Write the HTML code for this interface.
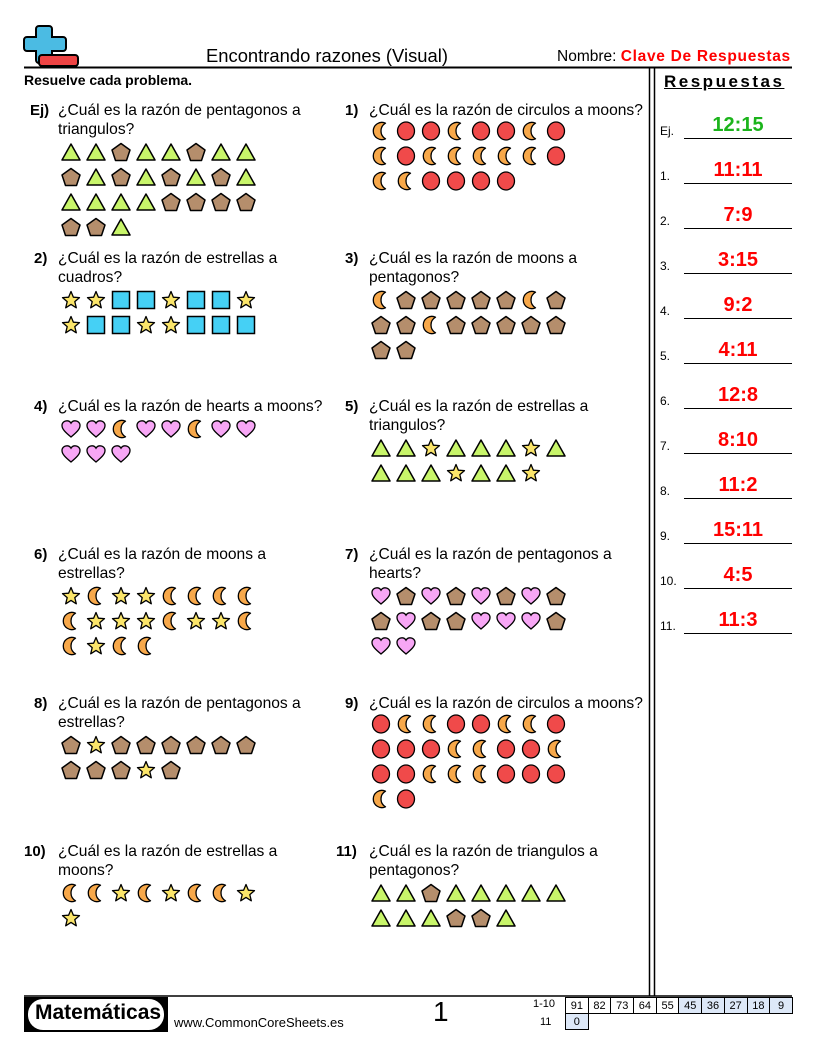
<!DOCTYPE html>
<html><head><meta charset="utf-8">
<style>
body{margin:0;background:#fff;}
#pg{position:relative;width:816px;height:1056px;overflow:hidden;font-family:"Liberation Sans",sans-serif;color:#000;}
.t{position:absolute;white-space:nowrap;}
.q{position:absolute;font-size:15.6px;line-height:19px;white-space:nowrap;}
.n{position:absolute;font-size:15px;font-weight:bold;line-height:19px;}
.ans{position:absolute;left:684px;width:108px;text-align:center;font-size:20px;font-weight:bold;color:#f00;line-height:24px;}
.al{position:absolute;left:684px;width:108px;height:1px;background:#000;}
.lb{position:absolute;left:660px;font-size:12px;}
table{border-collapse:collapse;font-size:11px;table-layout:fixed;}
td{border:1px solid #000;width:21.7px;height:15px;text-align:center;padding:0;}
td.b{background:#dde8f8;}
</style></head><body><div id="pg">
<svg width="816" height="1056" style="position:absolute;left:0;top:0" id="sv">
<defs>
<symbol id="T" viewBox="0 0 20 20"><polygon points="10,2 19,18 1,18" fill="#c8f56a" stroke="#000" stroke-width="1.5" stroke-linejoin="round"/></symbol>
<symbol id="P" viewBox="0 0 20 20"><polygon points="10,1.5 19,8 15.5,18.5 4.5,18.5 1,8" fill="#b58e6c" stroke="#000" stroke-width="1.5" stroke-linejoin="round"/></symbol>
<symbol id="M" viewBox="0 0 20 20"><path d="M14.5,2.2 A8.6,8.6 0 1 0 14.5,17.8 A9,9 0 0 1 14.5,2.2 Z" fill="#f7a84a" stroke="#000" stroke-width="1.3" stroke-linejoin="round"/></symbol>
<symbol id="C" viewBox="0 0 20 20"><ellipse cx="10" cy="10" rx="8.5" ry="9" fill="#f04a4a" stroke="#000" stroke-width="1.3"/></symbol>
<symbol id="S" viewBox="0 0 20 20"><polygon points="10,1.5 12.4,7.2 18.5,7.6 13.8,11.6 15.3,17.8 10,14.4 4.7,17.8 6.2,11.6 1.5,7.6 7.6,7.2" fill="#fbe56a" stroke="#000" stroke-width="1.3" stroke-linejoin="round"/></symbol>
<symbol id="Q" viewBox="0 0 20 20"><rect x="1.5" y="1.5" width="17" height="17" fill="#45d0f5" stroke="#000" stroke-width="1.5"/></symbol>
<symbol id="H" viewBox="0 0 20 20"><path d="M10,18 C4,13 1,10 1,6.5 C1,3.5 3.5,1.8 6,1.8 C8,1.8 9.3,3 10,4.2 C10.7,3 12,1.8 14,1.8 C16.5,1.8 19,3.5 19,6.5 C19,10 16,13 10,18 Z" fill="#f7a6f5" stroke="#000" stroke-width="1.3"/></symbol>
</defs>
<!-- logo -->
<path d="M39,26 h10 a3,3 0 0 1 3,3 v8 h11 a3,3 0 0 1 3,3 v8 a3,3 0 0 1 -3,3 h-11 v9 a3,3 0 0 1 -3,3 h-10 a3,3 0 0 1 -3,-3 v-9 h-9 a3,3 0 0 1 -3,-3 v-8 a3,3 0 0 1 3,-3 h9 v-8 a3,3 0 0 1 3,-3 z" fill="#4bbbe3" stroke="#000" stroke-width="2"/>
<rect x="39" y="55" width="39" height="11" rx="3" fill="#ee4444" stroke="#000" stroke-width="2"/>
<line x1="24" y1="67.5" x2="792" y2="67.5" stroke="#000" stroke-width="2"/>
<line x1="649.5" y1="67" x2="649.5" y2="996" stroke="#000" stroke-width="1.5"/>
<line x1="654.5" y1="67" x2="654.5" y2="996" stroke="#000" stroke-width="1.5"/>
<line x1="24" y1="996" x2="792" y2="996" stroke="#000" stroke-width="1.5"/>
<rect x="24" y="997" width="144" height="35" fill="#000"/>
<rect x="28" y="999" width="136" height="31" rx="15" fill="#fff"/>
</svg>
<div class="t" style="left:206px;top:45px;font-size:18.4px;">Encontrando razones (Visual)</div>
<div class="t" style="left:557px;top:48px;font-size:15.5px;">Nombre: <span style="color:#f00;font-weight:bold;letter-spacing:0.7px">Clave De Respuestas</span></div>
<div class="t" style="left:24px;top:72px;font-size:14px;font-weight:bold;">Resuelve cada problema.</div>
<div class="t" style="left:664px;top:72px;font-size:17px;font-weight:bold;letter-spacing:2.5px;text-decoration:underline;">Respuestas</div>

<div class="n" style="left:30px;top:101px">Ej)</div><div class="q" style="left:58px;top:101px">¿Cuál es la razón de pentagonos a<br>triangulos?</div>
<div class="n" style="left:345px;top:101px">1)</div><div class="q" style="left:369px;top:101px">¿Cuál es la razón de circulos a moons?</div>
<div class="n" style="left:34px;top:249px">2)</div><div class="q" style="left:58px;top:249px">¿Cuál es la razón de estrellas a<br>cuadros?</div>
<div class="n" style="left:345px;top:249px">3)</div><div class="q" style="left:369px;top:249px">¿Cuál es la razón de moons a<br>pentagonos?</div>
<div class="n" style="left:34px;top:397px">4)</div><div class="q" style="left:58px;top:397px">¿Cuál es la razón de hearts a moons?</div>
<div class="n" style="left:345px;top:397px">5)</div><div class="q" style="left:369px;top:397px">¿Cuál es la razón de estrellas a<br>triangulos?</div>
<div class="n" style="left:34px;top:545px">6)</div><div class="q" style="left:58px;top:545px">¿Cuál es la razón de moons a<br>estrellas?</div>
<div class="n" style="left:345px;top:545px">7)</div><div class="q" style="left:369px;top:545px">¿Cuál es la razón de pentagonos a<br>hearts?</div>
<div class="n" style="left:34px;top:694px">8)</div><div class="q" style="left:58px;top:694px">¿Cuál es la razón de pentagonos a<br>estrellas?</div>
<div class="n" style="left:345px;top:694px">9)</div><div class="q" style="left:369px;top:694px">¿Cuál es la razón de circulos a moons?</div>
<div class="n" style="left:24px;top:842px">10)</div><div class="q" style="left:58px;top:842px">¿Cuál es la razón de estrellas a<br>moons?</div>
<div class="n" style="left:336px;top:842px">11)</div><div class="q" style="left:369px;top:842px">¿Cuál es la razón de triangulos a<br>pentagonos?</div>

<div class="lb" style="top:124px">Ej.</div><div class="ans" style="top:113px;color:#1bb41b">12:15</div><div class="al" style="top:138px"></div>
<div class="lb" style="top:169px">1.</div><div class="ans" style="top:158px">11:11</div><div class="al" style="top:183px"></div>
<div class="lb" style="top:214px">2.</div><div class="ans" style="top:203px">7:9</div><div class="al" style="top:228px"></div>
<div class="lb" style="top:259px">3.</div><div class="ans" style="top:248px">3:15</div><div class="al" style="top:273px"></div>
<div class="lb" style="top:304px">4.</div><div class="ans" style="top:293px">9:2</div><div class="al" style="top:318px"></div>
<div class="lb" style="top:349px">5.</div><div class="ans" style="top:338px">4:11</div><div class="al" style="top:363px"></div>
<div class="lb" style="top:394px">6.</div><div class="ans" style="top:383px">12:8</div><div class="al" style="top:408px"></div>
<div class="lb" style="top:439px">7.</div><div class="ans" style="top:428px">8:10</div><div class="al" style="top:453px"></div>
<div class="lb" style="top:484px">8.</div><div class="ans" style="top:473px">11:2</div><div class="al" style="top:498px"></div>
<div class="lb" style="top:529px">9.</div><div class="ans" style="top:518px">15:11</div><div class="al" style="top:543px"></div>
<div class="lb" style="top:574px">10.</div><div class="ans" style="top:563px">4:5</div><div class="al" style="top:588px"></div>
<div class="lb" style="top:619px">11.</div><div class="ans" style="top:608px">11:3</div><div class="al" style="top:633px"></div>

<div class="t" style="left:35px;top:1001px;font-size:21px;font-weight:bold;">Matemáticas</div>
<div class="t" style="left:174px;top:1015px;font-size:13px;">www.CommonCoreSheets.es</div>
<div class="t" style="left:433px;top:996px;font-size:28px;">1</div>
<div class="t" style="left:533px;top:998px;font-size:11px;">1-10</div>
<div class="t" style="left:540px;top:1016px;font-size:11px;">11</div>
<table style="position:absolute;left:565px;top:997px;width:227px;">
<tr><td>91</td><td>82</td><td>73</td><td>64</td><td>55</td><td class="b">45</td><td class="b">36</td><td class="b">27</td><td class="b">18</td><td class="b">9</td></tr>
<tr><td class="b">0</td><td style="border:none"></td><td style="border:none"></td><td style="border:none"></td><td style="border:none"></td><td style="border:none"></td><td style="border:none"></td><td style="border:none"></td><td style="border:none"></td><td style="border:none"></td></tr></table>
</div>
<script>
var P=[
[61,152,"TTPTTPTT/PTPTPTPT/TTTTPPPP/PPT"],
[371,131,"MCCMCCMC/MCMMMMMC/MMCCCC"],
[61,300,"SSQQSQQS/SQQSSQQQ"],
[371,300,"MPPPPPMP/PPMPPPPP/PP"],
[61,429,"HHMHHMHH/HHH"],
[371,448,"TTSTTTST/TTTSTTS"],
[61,596,"SMSSMMMM/MSSSMSSM/MSMM"],
[371,596,"HPHPHPHP/PHPPHHHP/HH"],
[61,745,"PSPPPPPP/PPPSP"],
[371,724,"CMMCCMMC/CCCMMCCM/CCMMMCCC/MC"],
[61,893,"MMSMSMMS/S"],
[371,893,"TTPTTTTT/TTTPPT"]];
var sv=document.getElementById('sv'),ns="http://www.w3.org/2000/svg";
P.forEach(function(p){p[2].split('/').forEach(function(r,ri){for(var i=0;i<r.length;i++){var u=document.createElementNS(ns,'use');u.setAttribute('href','#'+r[i]);u.setAttributeNS('http://www.w3.org/1999/xlink','xlink:href','#'+r[i]);u.setAttribute('x',p[0]+i*25);u.setAttribute('y',p[1]+ri*25-10);u.setAttribute('width',20);u.setAttribute('height',20);sv.appendChild(u);}});});
</script>
</body></html>
